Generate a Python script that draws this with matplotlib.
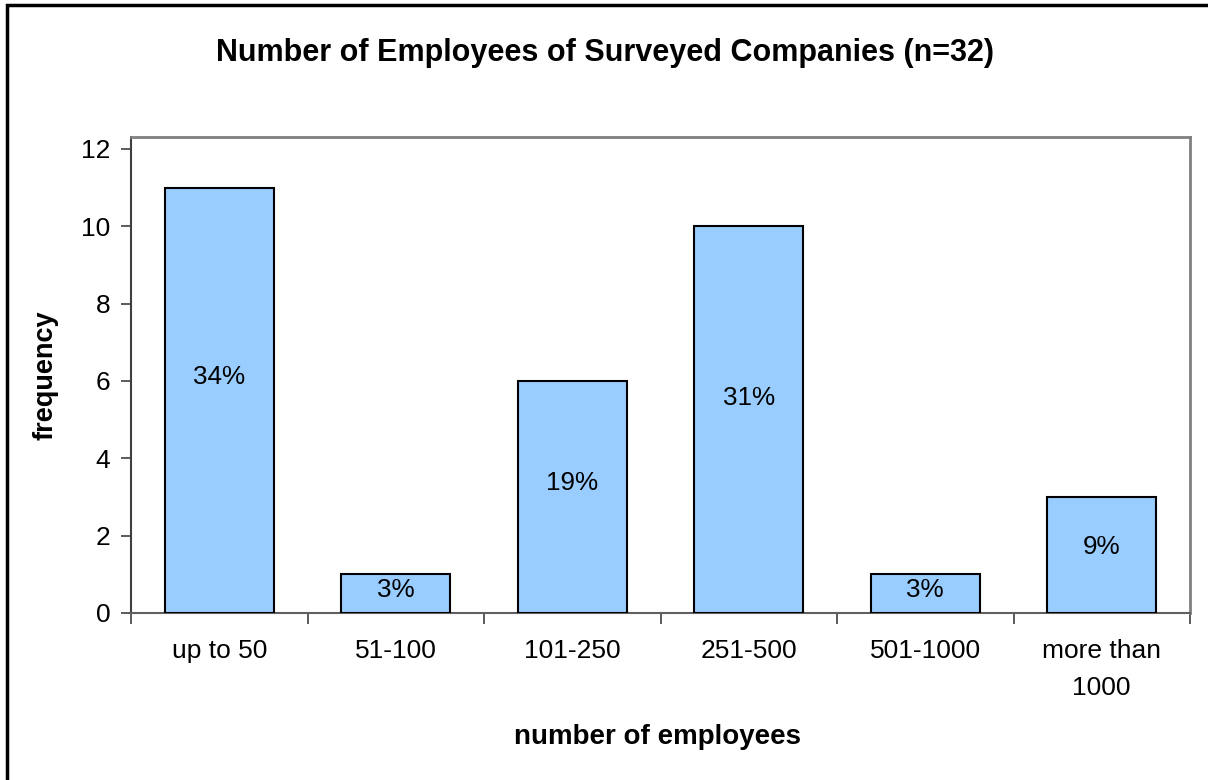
import numpy as np
import matplotlib.pyplot as plt
from matplotlib.patches import Rectangle

plt.rcParams['font.family'] = ['Liberation Sans', 'DejaVu Sans']

# Survey data
kategori = ['up to 50', '51-100', '101-250', '251-500', '501-1000', 'more than\n1000']
jumlah = [11, 1, 6, 10, 1, 3]
n_total = 32

fig = plt.figure(figsize=(12.08, 7.8), dpi=100)
ax = fig.add_axes([131 / 1208, 1 - 613 / 780, 1059 / 1208, 476 / 780])

x = np.arange(len(kategori)) + 0.5
ax.bar(x, jumlah, width=0.62, color='#99CCFF', edgecolor='black', linewidth=1.5, zorder=3)

# Percent labels inside each bar
for xi, v in zip(x, jumlah):
    pct = round(100 * v / n_total)
    ax.text(xi, v * 0.55 + 0.05, f'{pct}%', ha='center', va='center', fontsize=18.8, zorder=4)

ax.set_xlim(0, len(kategori))
ax.set_ylim(0, 12.31)
ax.set_yticks(np.arange(0, 13, 2))
ax.set_xticks(np.arange(0, len(kategori) + 1))
ax.set_xticklabels([])
ax.set_xticks(x, minor=True)
ax.set_xticklabels(kategori, minor=True, fontsize=19, linespacing=1.65)
ax.tick_params(axis='x', which='minor', length=0, pad=19)
ax.tick_params(axis='x', which='major', length=8, width=1.2, color='#404040')
ax.tick_params(axis='y', length=7, width=1.2, color='#404040', labelsize=19, pad=8)

for s in ['top', 'right']:
    ax.spines[s].set_color('#808080')
    ax.spines[s].set_linewidth(2)
ax.spines['left'].set_color('#404040')
ax.spines['left'].set_linewidth(1.5)
ax.spines['bottom'].set_color('#606060')
ax.spines['bottom'].set_linewidth(1.5)

ax.set_ylabel('frequency', fontsize=19.5, fontweight='bold', labelpad=16)
fig.text(658 / 1208, 1 - 737 / 780, 'number of employees', ha='center', va='center',
         fontsize=20, fontweight='bold')
fig.text(605 / 1208, 1 - 53 / 780, 'Number of Employees of Surveyed Companies (n=32)',
         ha='center', va='center', fontsize=22, fontweight='bold')

# Outer chart frame
fig.patches.append(Rectangle((7 / 1208, -0.05), 1.1, 1 - 5 / 780 + 0.05,
                             transform=fig.transFigure, fill=False,
                             edgecolor='black', linewidth=2.5))

fig.savefig('out.png', dpi=100)
